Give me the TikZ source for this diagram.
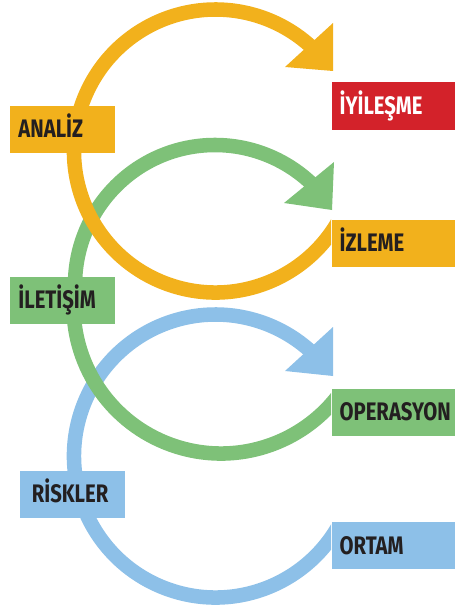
\documentclass[tikz,border=0pt]{standalone}
\usepackage{fontspec}
\usetikzlibrary{calc}
\newfontfamily\lblfont{Fira Sans}[FakeStretch=0.8]

\definecolor{ringorange}{RGB}{242,177,28}
\definecolor{ringgreen}{RGB}{126,193,120}
\definecolor{ringblue}{RGB}{141,192,232}
\definecolor{tagred}{RGB}{211,34,42}
\definecolor{labeltext}{RGB}{35,31,32}

\tikzset{every picture/.style={line width=0.75pt}}
\tikzset{
  ring/.style={line width=10.9pt},
  tag/.style={rectangle, anchor=north west, inner ysep=0pt, minimum height=35.25pt,
    text height=13.1pt, text depth=0pt, align=left, text=labeltext,
    font=\lblfont\bfseries\fontsize{19pt}{19pt}\selectfont},
  tagleft/.style={tag, inner xsep=6.75pt, text width=65.25pt},
  tagright/.style={tag, inner xsep=6.125pt, text width=80pt}
}

\begin{document}
\begin{tikzpicture}[x=0.75pt,y=0.75pt,yscale=-1,xscale=1]
\useasboundingbox (0,0) rectangle (454,610);

% centres of the rings
\coordinate (corange) at (215.5,151);
\coordinate (cgreenup) at (215,285);
\coordinate (cgreenlow) at (221,306);
\coordinate (cblue) at (215.5,456);

% rings, cut at the left edge of the right-hand tags
\begin{scope}
\clip (0,0) rectangle (331,610);
\draw[ring, ringblue] ($(cblue)+(20:141.5)$) arc[start angle=20, end angle=315, radius=141.5];
\draw[ring, ringgreen] ($(cgreenlow)+(20:147.5)$) arc[start angle=20, end angle=180, radius=147.5]
  -- (75,285) arc[start angle=180, end angle=315, radius=140];
\draw[ring, ringorange] ($(corange)+(20:141.5)$) arc[start angle=20, end angle=315, radius=141.5];
\end{scope}

% arrow heads
\fill[ringorange] (333,23) -- (333,71) -- (285,67) -- cycle;
\fill[ringgreen] (334,162) -- (332,210) -- (284,203) -- cycle;
\fill[ringblue] (333,327) -- (333,376) -- (285,371) -- cycle;

% left tags
\node[tagleft, fill=ringorange] (analiz) at (9,105) {ANALİZ};
\node[tagleft, fill=ringgreen] (iletisim) at (9,276) {İLETİŞİM};
\node[tagleft, fill=ringblue] (riskler) at (19,470) {\hspace*{2.5pt}RİSKLER};

% right tags
\node[tagright, fill=tagred, text=white] (iyilesme) at (331,82) {İYİLEŞME};
\node[tagright, fill=ringorange] (izleme) at (331,219) {İZLEME};
\node[tagright, fill=ringgreen] (operasyon) at (331,388) {OPERASYON};
\node[tagright, fill=ringblue] (ortam) at (331,521.7) {ORTAM};

\end{tikzpicture}
\end{document}
